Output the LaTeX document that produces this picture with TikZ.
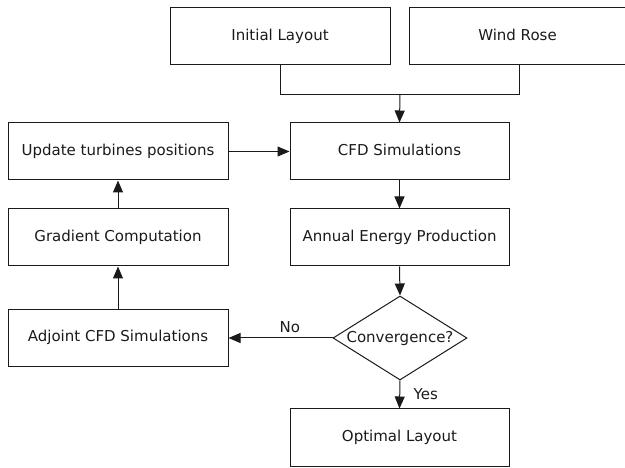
\documentclass[tikz,border=0pt]{standalone}
\usepackage{fontspec}
\setmainfont{DejaVu Sans}
\usetikzlibrary{shapes.geometric,arrows.meta}
\definecolor{ink}{HTML}{1A1A1A}
\tikzset{
  txt/.style={text=ink, font=\fontsize{15}{18}\selectfont},
  box/.style={draw=ink, line width=1pt, minimum width=220pt, minimum height=57pt, inner sep=0pt, txt, text height=11pt, text depth=3pt},
  decision/.style={draw=ink, line width=1pt, diamond, minimum width=134pt, minimum height=84pt, inner sep=0pt},
  link/.style={draw=ink, line width=1pt},
  arr/.style={link, -{Triangle[length=12pt,width=10pt]}},
  lbl/.style={txt}
}
\begin{document}
\begin{tikzpicture}[x=1pt,y=-1pt]
\useasboundingbox (0,0) rectangle (625,468);
\node[box] (init) at (280,36.5) {Initial Layout};
\node[box, minimum width=217pt] (wind) at (517.5,36.5) {Wind Rose};
\node[box, minimum width=219pt] (cfd) at (399.5,151.5) {CFD Simulations};
\node[box, minimum width=219pt] (aep) at (399.5,237.5) {Annual Energy Production};
\node[decision] (conv) at (400,338) {};
\node[txt] (convtext) at (conv.center) {Convergence?};
\node[box, minimum width=219pt] (opt) at (399.5,437.5) {Optimal Layout};
\node[box] (upd) at (118,151.5) {Update turbines positions};
\node[box] (grad) at (118,237.5) {Gradient Computation};
\node[box] (adj) at (118,338) {Adjoint CFD Simulations};
\coordinate (merge) at (400,94.5);
\coordinate (windfoot) at (519,65);
\draw[link] (init.south) |- (merge) -| (windfoot);
\draw[arr] (merge) -- (cfd.north);
\draw[arr] (upd.east) -- (cfd.west);
\draw[arr] (cfd.south) -- (aep.north);
\draw[arr] (aep.south) -- (conv.north);
\draw[arr] (conv.west) -- node[lbl, above=1pt, pos=0.41] {No} (adj.east);
\draw[arr] (adj.north) -- (grad.south);
\draw[arr] (grad.north) -- (upd.south);
\draw[arr] (conv.south) -- node[lbl, right=10pt, pos=0.48] {Yes} (opt.north);
\end{tikzpicture}
\end{document}
